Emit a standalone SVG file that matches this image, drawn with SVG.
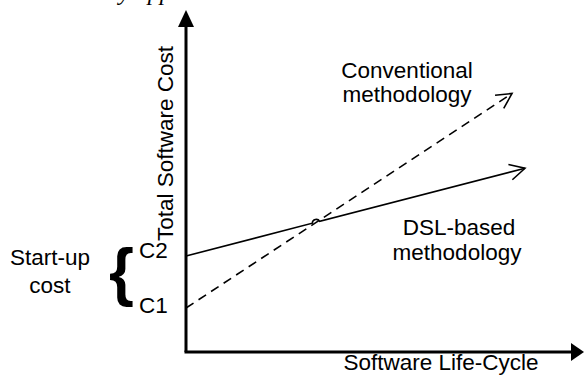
<svg xmlns="http://www.w3.org/2000/svg" width="584" height="375" viewBox="0 0 584 375">
<style>
.t{font-family:"Liberation Sans",Arial,sans-serif;font-size:22.5px;fill:#000}
.ax{stroke:#000;stroke-width:3;fill:none}
.ln{stroke:#000;stroke-width:1.6;fill:none}
</style>
<defs>
<marker id="open" markerUnits="userSpaceOnUse" markerWidth="40" markerHeight="40" viewBox="-20 -20 40 40" refX="0" refY="0" orient="auto" overflow="visible">
<path d="M-15.1 -7.9 L0 0 L-15.1 7.9" fill="none" stroke="#000" stroke-width="1.6" stroke-dasharray="none"/>
</marker>
</defs>
<rect width="584" height="375" fill="#fff"/>
<text x="119" y="0" font-family="'Liberation Serif',serif" font-style="italic" font-size="24">y app</text>
<g id="axes">
<line class="ax" x1="186" y1="352" x2="186" y2="24"/>
<polygon points="186,10 178,27 194,27" fill="#000"/>
<line class="ax" x1="184.5" y1="352" x2="573" y2="352"/>
<polygon points="584,352 571,343 571,361" fill="#000"/>
</g>
<g id="connectors">
<path id="dsl" class="ln" d="M186 256 L312.3 223.2 A4 4 0 0 1 319.7 221.3 L525 168.3" marker-end="url(#open)"/>
<path id="conv" class="ln" d="M186 308 L512 93.5" stroke-dasharray="9 6" marker-end="url(#open)"/>
</g>
<g id="labels">
<text class="t" transform="translate(173,143.5) rotate(-90)" text-anchor="middle" font-size="22">Total Software Cost</text>
<text class="t" x="441" y="370" text-anchor="middle">Software Life-Cycle</text>
<text class="t" x="407" y="78" text-anchor="middle">Conventional</text>
<text class="t" x="407" y="102" text-anchor="middle">methodology</text>
<text class="t" x="459" y="235" text-anchor="middle">DSL-based</text>
<text class="t" x="457" y="260" text-anchor="middle">methodology</text>
<text class="t" x="50" y="265" text-anchor="middle">Start-up</text>
<text class="t" x="50" y="293" text-anchor="middle">cost</text>
<text class="t" x="139" y="258">C2</text>
<text class="t" x="139" y="313">C1</text>
<text x="109" y="294" font-family="'Liberation Sans',Arial,sans-serif" font-size="64" font-weight="bold">{</text>
</g>
</svg>
